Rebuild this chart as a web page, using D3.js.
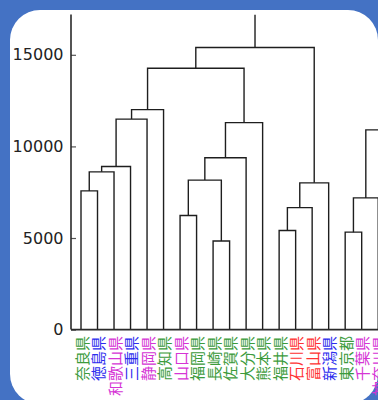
<!DOCTYPE html>
<html>
<head>
<meta charset="utf-8">
<script src="https://cdn.jsdelivr.net/npm/d3@7"></script>
<style>
  html, body { margin: 0; padding: 0; background: #4472c4; }
  svg { display: block; }
</style>
</head>
<body>
<svg id="chart" width="378" height="400"></svg>
<script>
// Leaf labels, left to right in dendrogram order
const leaves = ["奈良県", "徳島県", "和歌山県", "三重県", "静岡県", "高知県", "山口県",
  "福岡県", "長崎県", "佐賀県", "大分県", "熊本県", "福井県", "石川県", "富山県",
  "新潟県", "東京都", "千葉県", "神奈川県"];
// Colour group for each leaf label
const leafGroup = [0, 1, 2, 1, 2, 0, 2, 0, 0, 0, 0, 0, 0, 3, 3, 1, 0, 2, 2];
const groupColors = ["#3c9b3c", "#2d2dee", "#d535d5", "#ff3232"];

// Linkage rows: [left child, right child, merge height].
// Ids 0..18 are leaves, id 19 is the next leaf beyond the right edge,
// new clusters are numbered from 20 upward in row order.
const linkLeft   = [0,    20,   21,   22,    23,    6,    8,    25,   27,   28,    24,    12,   31,   32,   30,    16,   35,   36];
const linkRight  = [1,    2,    3,    4,     5,     7,    9,    26,   10,   11,    29,    13,   14,   15,   33,    17,   18,   19];
const linkHeight = [7570, 8610, 8900, 11490, 12010, 6230, 4840, 8160, 9380, 11300, 14270, 5410, 6660, 8010, 15400, 5320, 7190, 10900];
// Clusters whose parent merge lies above the visible range
const openTop = [34, 37];

// Y axis ticks
const yTicks = [0, 5000, 10000, 15000];
</script>
<script>
const svg = d3.select("#chart");

// White rounded panel
svg.append("rect")
  .attr("x", 10).attr("y", 10)
  .attr("width", 368).attr("height", 394)
  .attr("rx", 30).attr("ry", 30)
  .attr("fill", "#ffffff");

const plot = { left: 71, top: 14.5, bottom: 329.6, right: 378 };

const x = d3.scaleLinear().domain([0, 18]).range([81, 378.2]);
const y = d3.scaleLinear().domain([0, 17200]).range([plot.bottom, plot.top]);

svg.append("defs").append("clipPath").attr("id", "plotClip")
  .append("rect")
  .attr("x", plot.left).attr("y", plot.top)
  .attr("width", 400).attr("height", plot.bottom - plot.top + 1);

// Build node positions from the linkage rows
const nLeaf = 20;
const pos = [];
for (let i = 0; i < nLeaf; i++) pos[i] = { cx: x(i), h: 0 };
linkLeft.forEach((a, k) => {
  const b = linkRight[k];
  pos[nLeaf + k] = { cx: (pos[a].cx + pos[b].cx) / 2, h: linkHeight[k], a, b };
});

const g = svg.append("g").attr("clip-path", "url(#plotClip)");
const lineGen = d3.line();
const paths = [];
for (let k = 0; k < linkLeft.length; k++) {
  const n = pos[nLeaf + k];
  const A = pos[n.a], B = pos[n.b];
  paths.push([[A.cx, y(A.h)], [A.cx, y(n.h)], [B.cx, y(n.h)], [B.cx, y(B.h)]]);
}
openTop.forEach(id => {
  const n = pos[id];
  paths.push([[n.cx, y(n.h)], [n.cx, y(17200)]]);
});
g.selectAll("path.link").data(paths).join("path")
  .attr("class", "link")
  .attr("d", d => lineGen(d))
  .attr("fill", "none")
  .attr("stroke", "#1e1e1e")
  .attr("stroke-width", 1.4);

// Y axis ticks (pointing into the plot)
const yAxis = d3.axisRight(y).tickValues(yTicks).tickSize(5).tickFormat("");
const ya = svg.append("g").attr("transform", `translate(${plot.left},0)`).call(yAxis);
ya.select(".domain").remove();
ya.selectAll(".tick line").attr("stroke", "#555").attr("stroke-width", 1.2);

svg.append("g").selectAll("text.ytick").data(yTicks).join("text")
  .attr("class", "ytick")
  .attr("x", 63.5)
  .attr("y", d => y(d))
  .attr("text-anchor", "end")
  .attr("dominant-baseline", "central")
  .attr("font-family", "DejaVu Sans, sans-serif")
  .attr("font-size", 16)
  .attr("fill", "#222")
  .text(d => d);

// Axis lines
svg.append("line")
  .attr("x1", plot.left).attr("x2", plot.left)
  .attr("y1", plot.top).attr("y2", plot.bottom)
  .attr("stroke", "#2a2a2a").attr("stroke-width", 1.6);
svg.append("line")
  .attr("x1", plot.left).attr("x2", plot.right)
  .attr("y1", plot.bottom).attr("y2", plot.bottom)
  .attr("stroke", "#2a2a2a").attr("stroke-width", 1.6);

// Leaf labels, rotated to read bottom to top
svg.append("g").selectAll("text.leaf").data(leaves).join("text")
  .attr("class", "leaf")
  .attr("transform", (d, i) => `translate(${x(i)},336) rotate(-90)`)
  .attr("text-anchor", "end")
  .attr("dominant-baseline", "central")
  .attr("font-family", "Noto Sans CJK JP, sans-serif")
  .attr("font-size", 15)
  .attr("fill", (d, i) => groupColors[leafGroup[i]])
  .text(d => d);
</script>
</body>
</html>
